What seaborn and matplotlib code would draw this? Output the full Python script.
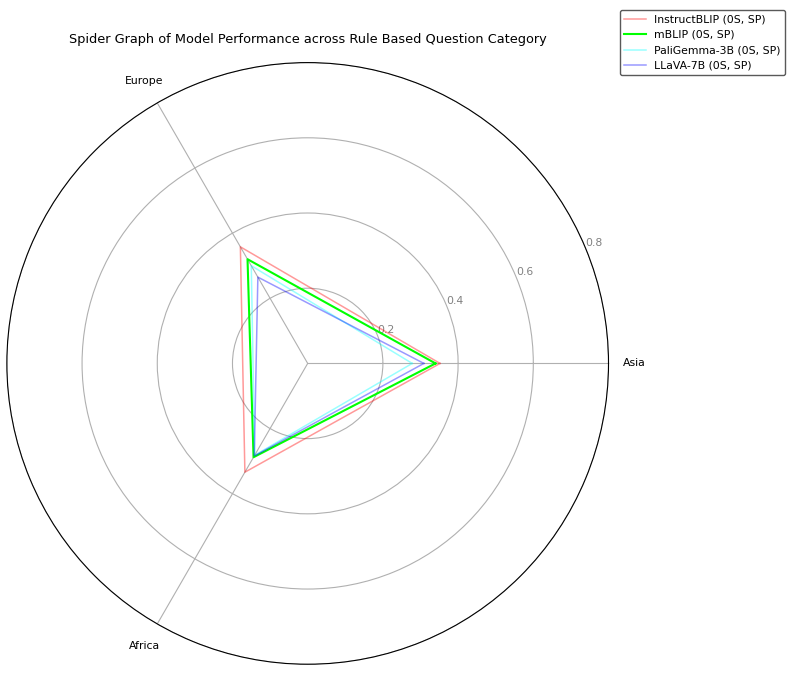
import numpy as np
import pandas as pd
import matplotlib
matplotlib.use("Agg")
import matplotlib.pyplot as plt
import seaborn as sns

# data
categories = ["Asia", "Europe", "Africa"]
models = ["InstructBLIP (0S, SP)", "mBLIP (0S, SP)", "PaliGemma-3B (0S, SP)", "LLaVA-7B (0S, SP)"]
instructblip = [0.352, 0.358, 0.334]
mblip = [0.340, 0.320, 0.288]
paligemma = [0.278, 0.300, 0.282]
llava = [0.309, 0.265, 0.284]
colors = ["red", "lime", "cyan", "blue"]
alphas = [0.4, 1.0, 0.4, 0.4]
widths = [1.1, 1.5, 1.1, 1.1]
rticks = [0.2, 0.4, 0.6, 0.8]

series = [instructblip, mblip, paligemma, llava]

angles = np.linspace(0, 2 * np.pi, len(categories), endpoint=False).tolist()
angles_closed = angles + angles[:1]

fig = plt.figure(figsize=(7.93, 6.73), dpi=100)
ax = fig.add_axes([0.0085, 0.013, 0.759, 0.894], projection="polar")

for name, vals, c, a, lw in zip(models, series, colors, alphas, widths):
    df = pd.DataFrame({"angle": angles_closed, "value": vals + vals[:1]})
    sns.lineplot(data=df, x="angle", y="value", sort=False, estimator=None,
                 color=c, alpha=a, linewidth=lw, label=name, ax=ax)

ax.set_xticks(angles)
ax.set_xticklabels(categories, fontsize=7.8)
ax.set_yticks(rticks)
ax.set_yticklabels([str(t) for t in rticks], color="grey", fontsize=7.8)
ax.set_rlabel_position(22.5)
ax.set_ylim(0, 0.8)
ax.set_xlabel("")
ax.set_ylabel("")
ax.tick_params(axis="x", pad=8)

ax.set_title("Spider Graph of Model Performance across Rule Based Question Category",
             fontsize=9.3, pad=14)

leg = ax.legend(loc="upper right", bbox_to_anchor=(0.997, 0.993),
                bbox_transform=fig.transFigure, framealpha=1, fontsize=7.8)
leg.get_frame().set_edgecolor("0.35")

plt.savefig("out.png", dpi=100)
